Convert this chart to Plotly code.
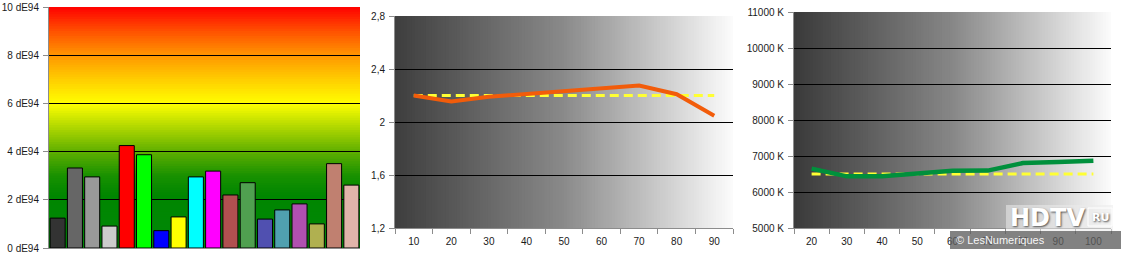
import plotly.graph_objects as go

W, H = 1121, 255

# ---------------- data ----------------
patch_values = [1.24, 3.32, 2.95, 0.91, 4.25, 3.87, 0.72, 1.29, 2.95, 3.19,
                2.20, 2.71, 1.20, 1.58, 1.83, 1.00, 3.50, 2.61]
patch_colors = ["#333333", "#666666", "#999999", "#cccccc", "#ff0000", "#00ff00",
                "#0000ff", "#ffff00", "#00ffff", "#ff00ff", "#b05050", "#50a050",
                "#5050b0", "#50a0b0", "#b050b0", "#b0b050", "#c08070", "#e0b4aa"]
de_ticks = [0, 2, 4, 6, 8, 10]
de_labels = ["0 dE94", "2 dE94", "4 dE94", "6 dE94", "8 dE94", "10 dE94"]

gamma_levels = ["10", "20", "30", "40", "50", "60", "70", "80", "90"]
gamma_values = [2.20, 2.155, 2.19, 2.21, 2.23, 2.255, 2.275, 2.21, 2.047]
gamma_target = [2.2] * 9
gamma_ticks = [1.2, 1.6, 2.0, 2.4, 2.8]
gamma_labels = ["1,2", "1,6", "2", "2,4", "2,8"]

temp_levels = ["20", "30", "40", "50", "60", "70", "80", "90", "100"]
temp_values = [6650, 6435, 6435, 6510, 6590, 6595, 6805, 6830, 6870]
temp_target = [6500] * 9
temp_ticks = [5000, 6000, 7000, 8000, 9000, 10000, 11000]
temp_labels = ["5000 K", "6000 K", "7000 K", "8000 K", "9000 K", "10000 K", "11000 K"]


def px_x(a, b):
    return [a / W, b / W]


def px_y(top, bottom):
    return [(H - bottom) / H, (H - top) / H]


def lerp_stops(stops, t):
    for (t0, c0), (t1, c1) in zip(stops[:-1], stops[1:]):
        if t0 <= t <= t1:
            f = (t - t0) / (t1 - t0) if t1 > t0 else 0
            c = [round(c0[k] + (c1[k] - c0[k]) * f) for k in range(3)]
            return "rgb(%d,%d,%d)" % tuple(c)
    c = stops[-1][1]
    return "rgb(%d,%d,%d)" % tuple(c)


fig = go.Figure()

# ---------------- left: dE94 bars ----------------
fig.add_trace(go.Bar(
    x=list(range(len(patch_values))), y=patch_values,
    marker=dict(color=patch_colors, line=dict(color="#000000", width=1)),
    xaxis="x", yaxis="y", showlegend=False, hoverinfo="y"))

# ---------------- middle: gamma ----------------
fig.add_trace(go.Scatter(
    x=gamma_levels, y=gamma_target, mode="lines",
    line=dict(color="#ffff33", width=3, dash="9px,5px"),
    xaxis="x2", yaxis="y2", showlegend=False))
fig.add_trace(go.Scatter(
    x=gamma_levels, y=gamma_values, mode="lines",
    line=dict(color="#f25c0a", width=4),
    xaxis="x2", yaxis="y2", showlegend=False))

# ---------------- right: colour temperature ----------------
fig.add_trace(go.Scatter(
    x=temp_levels, y=temp_target, mode="lines",
    line=dict(color="#ffff33", width=3, dash="9px,5px"),
    xaxis="x3", yaxis="y3", showlegend=False))
fig.add_trace(go.Scatter(
    x=temp_levels, y=temp_values, mode="lines",
    line=dict(color="#00903c", width=4.5),
    xaxis="x3", yaxis="y3", showlegend=False))

shapes = []
# vertical gradient for dE94 background (stacked rects, each reaching the top)
de_stops = [(0.0, (0, 136, 8)), (2.2, (0, 134, 0)), (3.0, (25, 145, 0)),
            (4.0, (95, 175, 0)), (5.0, (175, 215, 0)), (6.0, (255, 255, 0)),
            (7.0, (255, 205, 0)), (8.0, (255, 150, 0)), (9.0, (255, 80, 0)),
            (10.0, (255, 0, 0))]
N = 100
for i in range(N):
    y0 = 10 * i / N
    y1 = 10 * (i + 1) / N
    shapes.append(dict(type="rect", xref="x domain", yref="y", x0=0, x1=1,
                       y0=y0, y1=10, line=dict(width=0),
                       fillcolor=lerp_stops(de_stops, (y0 + y1) / 2), layer="below"))

# horizontal grey gradients
g_stops = [(0.0, (62, 62, 62)), (0.5, (138, 138, 138)), (1.0, (252, 252, 252))]
t_stops = [(0.0, (58, 58, 58)), (0.5, (135, 135, 135)), (1.0, (252, 252, 252))]
M = 120
for ax, stops in (("x2", g_stops), ("x3", t_stops)):
    yax = "y2" if ax == "x2" else "y3"
    for i in range(M):
        shapes.append(dict(type="rect", xref=ax + " domain", yref=yax + " domain",
                           x0=i / M, x1=1, y0=0, y1=1, line=dict(width=0),
                           fillcolor=lerp_stops(stops, (i + 0.5) / M), layer="below"))

# watermark band
shapes.append(dict(type="rect", xref="paper", yref="paper",
                   x0=950 / W, x1=1, y0=(H - 249) / H, y1=(H - 231) / H,
                   line=dict(width=0), fillcolor="rgba(95,95,95,0.78)", layer="above"))
shapes.append(dict(type="rect", xref="paper", yref="paper",
                   x0=1006 / W, x1=1113 / W, y0=(H - 231) / H, y1=(H - 205) / H,
                   line=dict(width=0), fillcolor="rgba(235,235,235,0.55)", layer="above"))
shapes.append(dict(type="rect", xref="paper", yref="paper",
                   x0=1088 / W, x1=1112 / W, y0=(H - 226) / H, y1=(H - 208) / H,
                   line=dict(width=1, color="white"), fillcolor="rgba(0,0,0,0)",
                   layer="above"))

font = dict(family="Liberation Sans, Arial, sans-serif", size=10, color="#1a1a1a")

axis_common = dict(showline=True, linecolor="#8c8c8c", linewidth=1,
                   ticks="outside", tickcolor="#8c8c8c", ticklen=5,
                   zeroline=False, fixedrange=True, automargin=False)

fig.update_layout(
    width=W, height=H, margin=dict(l=0, r=0, t=0, b=0, autoexpand=False),
    paper_bgcolor="white", plot_bgcolor="rgba(0,0,0,0)",
    font=font, bargap=0.13, shapes=shapes,
    xaxis=dict(domain=px_x(49, 360), anchor="y", range=[-0.5, 17.5],
               showticklabels=False, showgrid=False, showline=True,
               linecolor="#8c8c8c", ticks="", zeroline=False, fixedrange=True,
               automargin=False),
    yaxis=dict(domain=px_y(7, 248), anchor="x", range=[0, 10],
               tickvals=de_ticks, ticktext=de_labels, showgrid=True,
               gridcolor="#000000", gridwidth=1, ticklabelstandoff=2, **axis_common),
    xaxis2=dict(domain=px_x(395, 733), anchor="y2", type="category",
                range=[-0.5, 8.5], tickson="boundaries", showgrid=False,
                ticklabelstandoff=4, **axis_common),
    yaxis2=dict(domain=px_y(16, 228), anchor="x2", range=[1.2, 2.8],
                tickvals=gamma_ticks, ticktext=gamma_labels, showgrid=True,
                gridcolor="#000000", gridwidth=1, ticklabelstandoff=2, **axis_common),
    xaxis3=dict(domain=px_x(794, 1111), anchor="y3", type="category",
                range=[-0.5, 8.5], tickson="boundaries", showgrid=False,
                ticklabelstandoff=4, **axis_common),
    yaxis3=dict(domain=px_y(12, 228), anchor="x3", range=[5000, 11000],
                tickvals=temp_ticks, ticktext=temp_labels, showgrid=True,
                gridcolor="#000000", gridwidth=1, ticklabelstandoff=2, **axis_common),
    annotations=[
        dict(text="HDTV", xref="paper", yref="paper", x=1047 / W, y=(H - 218) / H,
             xanchor="center", yanchor="middle", showarrow=False,
             font=dict(family="DejaVu Sans, sans-serif", size=24, color="white",
                       weight="bold", shadow="1px 1px 2px #555")),
        dict(text="RU", xref="paper", yref="paper", x=1100 / W, y=(H - 217) / H,
             xanchor="center", yanchor="middle", showarrow=False,
             font=dict(family="DejaVu Sans, sans-serif", size=11, color="white",
                       weight="bold", shadow="1px 1px 2px #555")),
        dict(text="© LesNumeriques", xref="paper", yref="paper", x=954 / W,
             y=(H - 240) / H, xanchor="left", yanchor="middle", showarrow=False,
             font=dict(family="Liberation Sans, Arial, sans-serif", size=11,
                       color="rgba(255,255,255,0.95)")),
    ],
)

fig.write_html("out.html")
